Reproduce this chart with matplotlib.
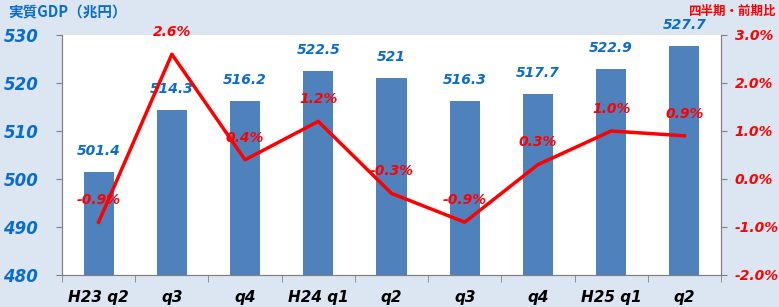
import matplotlib
matplotlib.use("Agg")
import matplotlib.pyplot as plt
import numpy as np

categories = ["H23 q2", "q3", "q4", "H24 q1", "q2", "q3", "q4", "H25 q1", "q2"]
gdp = [501.4, 514.3, 516.2, 522.5, 521.0, 516.3, 517.7, 522.9, 527.7]
gdp_labels = ["501.4", "514.3", "516.2", "522.5", "521", "516.3", "517.7", "522.9", "527.7"]
growth = [-0.9, 2.6, 0.4, 1.2, -0.3, -0.9, 0.3, 1.0, 0.9]
left_ticks = [480, 490, 500, 510, 520, 530]
right_ticks = [-2.0, -1.0, 0.0, 1.0, 2.0, 3.0]

bg = "#dce6f2"
blue_txt = "#0a6ccc"
bar_c = "#4f81bd"
red = "#ff0000"
fam = ["DejaVu Sans"]
cjk = ["Noto Sans CJK JP", "DejaVu Sans"]

fig = plt.figure(figsize=(7.79, 3.07), dpi=100, facecolor=bg)
ax = fig.add_axes([62/779, 32/307, (721-62)/779, (275-35)/307])
ax.set_facecolor("white")
x = np.arange(len(categories))
ax.bar(x, [g - 480 for g in gdp], bottom=480, width=0.41, color=bar_c, zorder=2)
ax.set_ylim(480, 530)
ax.set_xlim(-0.5, len(categories) - 0.5)
ax.set_yticks(left_ticks)
ax.set_yticklabels([str(t) for t in left_ticks], fontsize=12, fontweight="bold",
                   fontstyle="oblique", color=blue_txt, family=fam)
ax.tick_params(axis="y", length=4, color="#808080", pad=13)
ax.set_xticks(x)
ax.set_xticklabels(categories, fontsize=11, fontweight="bold", fontstyle="italic",
                   color="black", family=fam)
ax.tick_params(axis="x", length=0, pad=11)
ax.set_xticks(np.arange(-0.5, len(categories), 1), minor=True)
ax.tick_params(axis="x", which="minor", length=5, color="#808080", direction="out")
ax.spines["top"].set_visible(False)
for s in ["left", "right", "bottom"]:
    ax.spines[s].set_color("#808080")

for xi, g, lab in zip(x, gdp, gdp_labels):
    ax.annotate(lab, (xi, g), xytext=(0, 10), textcoords="offset points",
                ha="center", va="bottom", fontsize=10, fontweight="bold",
                fontstyle="italic", color=blue_txt, family=fam, zorder=5)

ax2 = ax.twinx()
ax2.plot(x, growth, color=red, lw=2.5, zorder=3)
ax2.set_ylim(-2.0, 3.0)
ax2.set_yticks(right_ticks)
ax2.set_yticklabels([f"{t:.1f}%" for t in right_ticks], fontsize=10, fontweight="bold",
                    fontstyle="italic", color=red, family=fam)
ax2.tick_params(axis="y", length=4, color="#808080", pad=6)
ax2.spines["top"].set_visible(False)
for s in ["left", "right", "bottom"]:
    ax2.spines[s].set_color("#808080")
for xi, g in zip(x, growth):
    ax2.annotate(f"{g:.1f}%", (xi, g), xytext=(0, 11), textcoords="offset points",
                 ha="center", va="bottom", fontsize=10, fontweight="bold",
                 fontstyle="italic", color=red, family=fam, zorder=6)

fig.text(8/779, 1 - 12/307, "実質GDP（兆円）", fontsize=10.5, fontweight="bold",
         color=blue_txt, family=cjk, va="center", ha="left")
fig.text(776/779, 1 - 11/307, "四半期・前期比", fontsize=9, fontweight="bold",
         color=red, family=cjk, va="center", ha="right")

fig.savefig("out.png", dpi=100, facecolor=bg)
